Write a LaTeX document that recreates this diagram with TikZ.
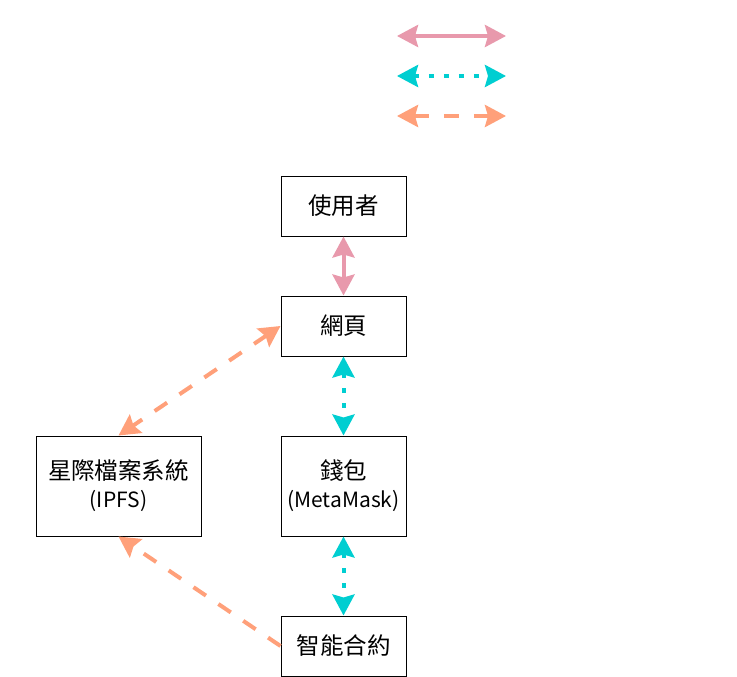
\documentclass[tikz,border=0pt]{standalone}
\usepackage{fontspec}
\setmainfont{Noto Sans CJK TC}
\usetikzlibrary{arrows.meta}
\definecolor{linkpink}{HTML}{E899AC}
\definecolor{linkcyan}{HTML}{00CED1}
\definecolor{linkorange}{HTML}{FFA07A}
\newcommand{\hanzi}[1]{{\fontsize{23.5}{28}\selectfont #1}}
\tikzset{
  box/.style={draw=black, line width=1pt, fill=white, inner sep=0pt,
    minimum width=125pt, minimum height=60pt, align=center,
    font=\fontsize{21}{28}\selectfont},
  link/.style={line width=4pt, >={Stealth[length=21pt, width=22pt, inset=3pt]}},
  solidlink/.style={link, draw=linkpink},
  dotlink/.style={link, draw=linkcyan, dash pattern=on 5pt off 10pt},
  dashlink/.style={link, draw=linkorange, dash pattern=on 15pt off 15pt},
}
\begin{document}
\begin{tikzpicture}[x=1pt, y=-1pt]
  \useasboundingbox (0,0) rectangle (737,677);

  % legend
  \coordinate (la1) at (397,36);  \coordinate (lb1) at (506,36);
  \coordinate (la2) at (397,76);  \coordinate (lb2) at (506,76);
  \coordinate (la3) at (397,116); \coordinate (lb3) at (506,116);
  \draw[solidlink, <->] (la1) -- (lb1);
  \draw[dotlink, <->] (la2) -- (lb2);
  \draw[dashlink, <->] (la3) -- (lb3);

  % components
  \node[box] (user) at (343.5,206) {\hanzi{使用者}};
  \node[box] (web) at (343.5,326) {\hanzi{網頁}};
  \node[box, minimum height=100pt] (wallet) at (343.5,486) {\hanzi{錢包}\\(MetaMask)};
  \node[box] (contract) at (343.5,646) {\hanzi{智能合約}};
  \node[box, minimum width=165pt, minimum height=100pt] (ipfs) at (118.5,486) {\hanzi{星際檔案系統}\\(IPFS)};

  % connections
  \draw[solidlink, <->] (user) -- (web);
  \draw[dotlink, <->] (web) -- (wallet);
  \draw[dotlink, <->] (wallet) -- (contract);
  \draw[dashlink, <->] (web.west) -- (ipfs.north);
  \draw[dashlink, ->] (contract.west) -- (ipfs.south);
\end{tikzpicture}
\end{document}
